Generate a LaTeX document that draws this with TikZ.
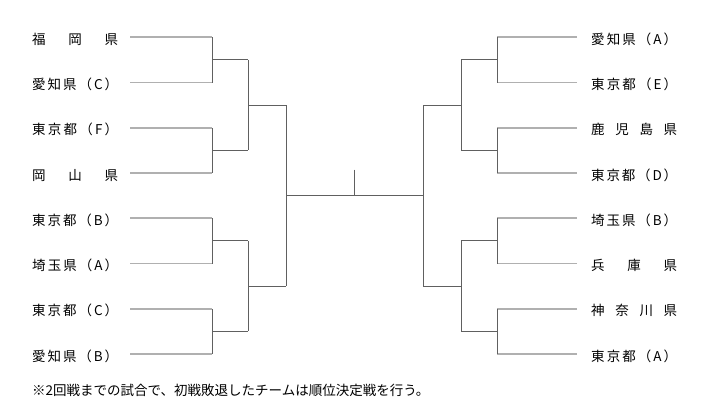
\documentclass[tikz,border=0pt]{standalone}
\usepackage{fontspec}
\setmainfont{Noto Sans CJK JP}
\usetikzlibrary{positioning,calc}
\definecolor{leafgray}{HTML}{B0B0B0}
\definecolor{wiregray}{HTML}{606060}
% spread the characters of a team name over a fixed width
\def\spacedchars#1{\ifx\relax#1\else #1\hfil\expandafter\spacedchars\fi}
\newcommand{\teamname}[1]{\makebox[86pt][s]{\spacedchars#1\relax\unskip}}

\begin{document}
\begin{tikzpicture}[x=1pt, y=-1pt,
  team/.style={anchor=west, inner sep=0pt, font=\fontsize{13.5}{13.5}\selectfont},
  leaf/.style={draw=leafgray, line width=1.8pt},
  wire/.style={draw=wiregray, line width=1pt}]
\useasboundingbox (0,0) rectangle (708,415);

% team names
\foreach \name [count=\i] in {福岡県, 愛知県（C）, 東京都（F）, 岡山県, 東京都（B）, 埼玉県（A）, 東京都（C）, 愛知県（B）}
  \node[team] (lt\i) at (32, {37.3+45.25*(\i-1)+2}) {\expandafter\teamname\expandafter{\name}};
\foreach \name [count=\i] in {愛知県（A）, 東京都（E）, 鹿児島県, 東京都（D）, 埼玉県（B）, 兵庫県, 神奈川県, 東京都（A）}
  \node[team] (rt\i) at (591, {37.3+45.25*(\i-1)+2}) {\expandafter\teamname\expandafter{\name}};

% first round lines
\foreach \i in {1,...,8} {
  \coordinate (la\i) at (130, {37.3+45.25*(\i-1)});
  \coordinate (lb\i) at (212, {37.3+45.25*(\i-1)});
  \coordinate (ra\i) at (577, {37.3+45.25*(\i-1)});
  \coordinate (rb\i) at (497, {37.3+45.25*(\i-1)});
  \draw[leaf] (la\i) -- (lb\i);
  \draw[leaf] (ra\i) -- (rb\i);
}
\foreach \j [evaluate=\j as \a using int(2*\j-1), evaluate=\j as \b using int(2*\j)] in {1,...,4} {
  \draw[wire] (lb\a) -- (lb\b);
  \draw[wire] (rb\a) -- (rb\b);
  \coordinate (lm\j) at ($(lb\a)!.5!(lb\b)$);
  \coordinate (rm\j) at ($(rb\a)!.5!(rb\b)$);
  \coordinate (ln\j) at ($(lm\j)+(36,0)$);
  \coordinate (rn\j) at ($(rm\j)-(36,0)$);
  \draw[wire] (lm\j) -- (ln\j);
  \draw[wire] (rm\j) -- (rn\j);
}

% second round
\foreach \k [evaluate=\k as \a using int(2*\k-1), evaluate=\k as \b using int(2*\k)] in {1,2} {
  \draw[wire] (ln\a) -- (ln\b);
  \draw[wire] (rn\a) -- (rn\b);
  \coordinate (lq\k) at ($(ln\a)!.5!(ln\b)$);
  \coordinate (rq\k) at ($(rn\a)!.5!(rn\b)$);
  \coordinate (lr\k) at ($(lq\k)+(38,0)$);
  \coordinate (rr\k) at ($(rq\k)-(38,0)$);
  \draw[wire] (lq\k) -- (lr\k);
  \draw[wire] (rq\k) -- (rr\k);
}

% semifinals and final
\draw[wire] (lr1) -- (lr2);
\draw[wire] (rr1) -- (rr2);
\coordinate (lc) at ($(lr1)!.5!(lr2)$);
\coordinate (rc) at ($(rr1)!.5!(rr2)$);
\draw[wire] (lc) -- (rc);
\coordinate (top) at ($(lc)!.5!(rc)+(0,-26)$);
\draw[wire] (top) -- ($(lc)!.5!(rc)$);

% note
\node[team] (note) at (32, 390) {※2回戦までの試合で、初戦敗退したチームは順位決定戦を行う。};
\end{tikzpicture}
\end{document}
